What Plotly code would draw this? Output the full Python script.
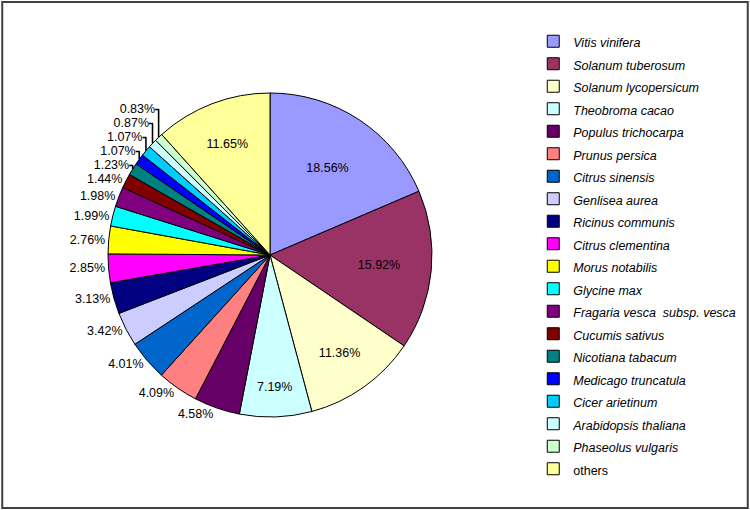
import plotly.graph_objects as go

species = ["Vitis vinifera", "Solanum tuberosum", "Solanum lycopersicum", "Theobroma cacao",
           "Populus trichocarpa", "Prunus persica", "Citrus sinensis", "Genlisea aurea",
           "Ricinus communis", "Citrus clementina", "Morus notabilis", "Glycine max",
           "Fragaria vesca  subsp. vesca", "Cucumis sativus", "Nicotiana tabacum",
           "Medicago truncatula", "Cicer arietinum", "Arabidopsis thaliana",
           "Phaseolus vulgaris", "others"]
percent = [18.56, 15.92, 11.36, 7.19, 4.58, 4.09, 4.01, 3.42, 3.13, 2.85, 2.76, 1.99,
           1.98, 1.44, 1.23, 1.07, 1.07, 0.87, 0.83, 11.65]
colors = ["#9999FF", "#993366", "#FFFFCC", "#CCFFFF", "#660066", "#FF8080", "#0066CC",
          "#CCCCFF", "#000080", "#FF00FF", "#FFFF00", "#00FFFF", "#800080", "#800000",
          "#008080", "#0000FF", "#00CCFF", "#CCFFFF", "#CCFFCC", "#FFFF99"]
inside = {"Vitis vinifera", "Solanum tuberosum", "Solanum lycopersicum", "Theobroma cacao",
          "others"}

labels = [
    f'<span style="font-size:12.5px">{s}</span>' if s == "others"
    else f'<span style="font-size:12.5px"><i>{s}</i></span>'
    for s in species
]
texts = [f"{p:.2f}%" for p in percent]
positions = ["inside" if s in inside else "outside" for s in species]

fig = go.Figure(go.Pie(
    labels=labels, values=percent, text=texts, textinfo="text",
    textposition=positions, insidetextorientation="horizontal",
    sort=False, direction="clockwise", rotation=0,
    marker=dict(colors=colors, line=dict(color="#000000", width=1)),
    textfont=dict(family="Arial, Liberation Sans", size=12.5, color="#000000"),
    domain=dict(x=[0.144, 0.576], y=[0.182, 0.818]),
))

fig.update_layout(
    width=750, height=510,
    margin=dict(l=0, r=0, t=0, b=0),
    paper_bgcolor="white",
    font=dict(family="Arial, Liberation Sans", size=12, color="#000000"),
    legend=dict(x=0.711, y=0.951, xanchor="left", yanchor="top",
                font=dict(size=15), tracegroupgap=0, itemwidth=30),
    shapes=[dict(type="rect", xref="paper", yref="paper", x0=0.003, x1=0.997, y0=0.004, y1=0.996,
                 line=dict(color="#404040", width=2))],
)

fig.write_html("out.html", config={"displayModeBar": False},
               post_script="document.body.style.margin='0';")
